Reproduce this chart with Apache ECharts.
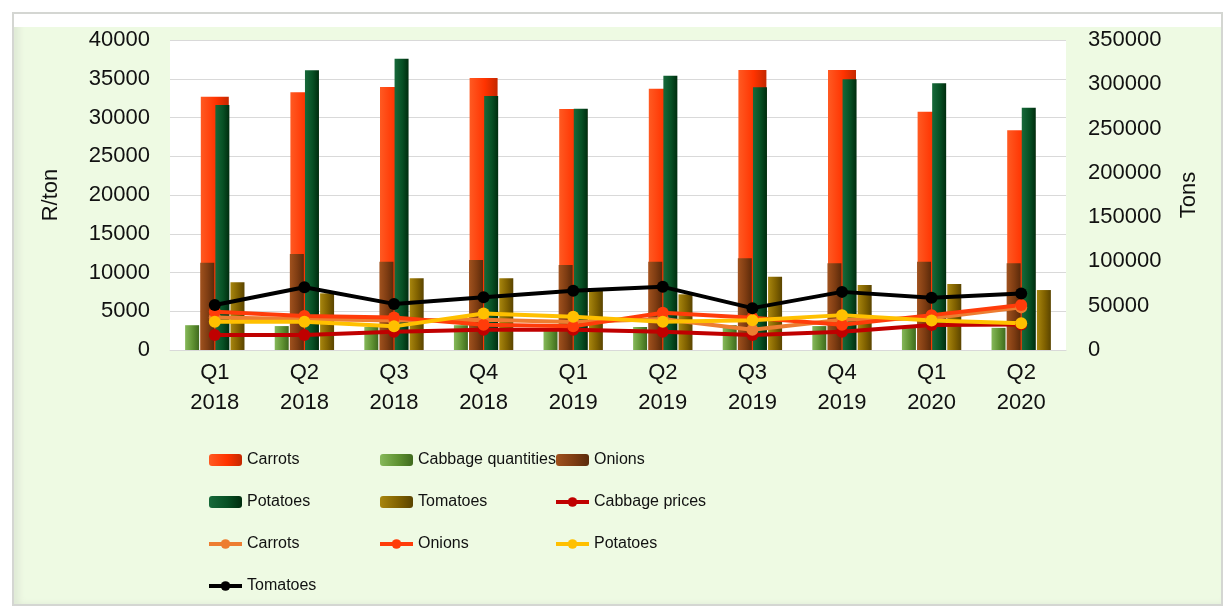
<!DOCTYPE html>
<html>
<head>
<meta charset="utf-8">
<script src="https://cdn.jsdelivr.net/npm/echarts@6/dist/echarts.min.js"></script>
<style>
  html, body { margin: 0; padding: 0; background: #fff; }
  #frame {
    position: absolute; left: 12px; top: 12px; width: 1207px; height: 590px;
    background: #eefae3;
    border: 2px solid #d4d6d2;
    box-shadow: inset 0 13px 0 #ffffff, inset 5px 0 6px #dfe9d6;
  }
  #chart { position: absolute; left: 0; top: 0; width: 1227px; height: 609px; }
</style>
</head>
<body>
<div id="frame"></div>
<div id="chart"></div>
<script>
const categories = ['Q1\n2018', 'Q2\n2018', 'Q3\n2018', 'Q4\n2018', 'Q1\n2019',
  'Q2\n2019', 'Q3\n2019', 'Q4\n2019', 'Q1\n2020', 'Q2\n2020'];

// quantities, tons (right axis)
const carrotsQty = [286000, 291000, 297000, 307000, 272000, 295000, 316000, 316000, 269000, 248000];
const cabbageQty = [28000, 27000, 26000, 28000, 23000, 26000, 28000, 27000, 25000, 25000];
const onionsQty = [98600, 108400, 99700, 101600, 96000, 99700, 103500, 97900, 99700, 97900];
const potatoesQty = [276600, 315800, 328900, 286800, 272400, 309700, 296600, 305600, 301100, 273600];
const tomatoesQty = [76400, 64000, 80900, 80900, 66600, 62900, 82800, 73400, 74500, 67700];

// prices, R/ton (left axis)
const cabbagePrice = [1950, 1950, 2350, 2600, 2600, 2360, 1950, 2360, 3230, 3300];
const carrotsPrice = [4200, 4000, 3800, 3900, 3600, 4000, 2600, 3900, 4100, 5500];
const onionsPrice = [4950, 4400, 4200, 3250, 3050, 4800, 4150, 3250, 4500, 5800];
const potatoesPrice = [3650, 3650, 3050, 4700, 4300, 3650, 3850, 4500, 3800, 3450];
const tomatoesPrice = [5800, 8100, 5950, 6800, 7650, 8150, 5400, 7500, 6750, 7300];

const leftTicks = { min: 0, max: 40000, interval: 5000 };
const rightTicks = { min: 0, max: 350000, interval: 50000 };

function grad(c0, c1, c2) {
  return {
    type: 'linear', x: 0, y: 0, x2: 1, y2: 0,
    colorStops: [{ offset: 0, color: c0 }, { offset: 0.55, color: c1 }, { offset: 1, color: c2 }]
  };
}

const font = 'Liberation Sans';

function barSeries(name, data, color, axis, width) {
  return {
    name: name, type: 'bar', data: data,
    xAxisIndex: axis, yAxisIndex: 1,
    barWidth: width, barGap: '8%',
    itemStyle: { color: color },
    emphasis: { disabled: true }
  };
}

function lineSeries(name, data, color) {
  return {
    name: name, type: 'line', data: data,
    xAxisIndex: 0, yAxisIndex: 0,
    symbol: 'circle', symbolSize: 12,
    lineStyle: { width: 4, color: color },
    itemStyle: { color: color },
    z: 5
  };
}

const legendBase = {
  orient: 'vertical', top: 447, itemWidth: 33, itemHeight: 12, itemGap: 26,
  lineStyle: { width: 4 },
  textStyle: { fontFamily: font, fontSize: 16, color: '#111' }
};

const chart = echarts.init(document.getElementById('chart'));
chart.setOption({
  animation: false,
  backgroundColor: 'transparent',
  grid: { left: 170, right: 161, top: 40, bottom: 259, show: true, backgroundColor: '#ffffff', borderWidth: 0 },
  legend: [
    Object.assign({ left: 202, data: ['Carrots', 'Potatoes', 'Carrots ', 'Tomatoes '] }, legendBase),
    Object.assign({ left: 373, data: ['Cabbage quantities', 'Tomatoes', 'Onions '] }, legendBase),
    Object.assign({ left: 549, data: ['Onions', 'Cabbage prices', 'Potatoes '] }, legendBase)
  ],
  xAxis: [
    {
      type: 'category', data: categories,
      axisLine: { lineStyle: { color: '#d9d9d9' } },
      axisTick: { show: false },
      axisLabel: { fontFamily: font, fontSize: 22, color: '#111', lineHeight: 30, margin: 8 }
    },
    { type: 'category', data: categories, show: false }
  ],
  yAxis: [
    {
      type: 'value', min: leftTicks.min, max: leftTicks.max, interval: leftTicks.interval,
      name: 'R/ton', nameLocation: 'middle', nameRotate: 90, nameGap: 108,
      nameTextStyle: { fontFamily: font, fontSize: 22, color: '#111' },
      axisLine: { show: false }, axisTick: { show: false },
      axisLabel: { fontFamily: font, fontSize: 22, color: '#111', margin: 20, formatter: v => String(v) },
      splitLine: { lineStyle: { color: '#d9d9d9', width: 1 } }
    },
    {
      type: 'value', min: rightTicks.min, max: rightTicks.max, interval: rightTicks.interval,
      name: 'Tons', nameLocation: 'middle', nameRotate: 90, nameGap: 112,
      nameTextStyle: { fontFamily: font, fontSize: 22, color: '#111' },
      axisLine: { show: false }, axisTick: { show: false },
      axisLabel: { fontFamily: font, fontSize: 22, color: '#111', margin: 22, formatter: v => String(v) },
      splitLine: { show: false }
    }
  ],
  series: [
    barSeries('Carrots', carrotsQty, grad('#ff5a22', '#ff3300', '#c42800'), 1, 28),
    barSeries('Cabbage quantities', cabbageQty, grad('#86b85a', '#5f9232', '#3f6a1e'), 0, 14),
    barSeries('Onions', onionsQty, grad('#a0521e', '#7e3c12', '#5a2a0a'), 0, 14),
    barSeries('Potatoes', potatoesQty, grad('#17693a', '#075024', '#002c0e'), 0, 14),
    barSeries('Tomatoes', tomatoesQty, grad('#a8860e', '#816200', '#5a4400'), 0, 14),
    lineSeries('Cabbage prices', cabbagePrice, '#c00000'),
    lineSeries('Carrots ', carrotsPrice, '#ed7d31'),
    lineSeries('Onions ', onionsPrice, '#ff3c0a'),
    lineSeries('Potatoes ', potatoesPrice, '#ffc000'),
    lineSeries('Tomatoes ', tomatoesPrice, '#000000')
  ]
});
</script>
</body>
</html>
